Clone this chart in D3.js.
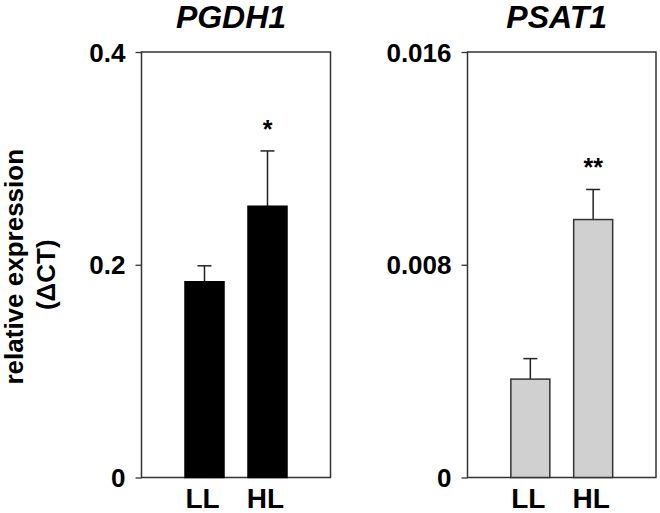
<!DOCTYPE html>
<html lang="en">
<head>
<meta charset="utf-8">
<title>PGDH1 / PSAT1 relative expression</title>
<script src="https://d3js.org/d3.v7.min.js"></script>
<style>
 body { margin: 0; background: #fff; }
 text { font-family: "Liberation Sans", Arial, sans-serif; font-weight: bold; fill: #000; }
</style>
</head>
<body>
<script>
// data
var conditions = ["LL", "HL"];
var genes = ["PGDH1", "PSAT1"];
var pgdh1Mean = [0.184, 0.255];
var pgdh1Err = [0.015, 0.052];
var psat1Mean = [0.0037, 0.0097];
var psat1Err = [0.00077, 0.00113];
var pgdh1Ticks = [0, 0.2, 0.4];
var psat1Ticks = [0, 0.008, 0.016];
var stars = [["", "*"], ["", "**"]];

var W = 660, H = 513;
var svg = d3.select("body").append("svg").attr("width", W).attr("height", H);

var plotTop = 52, plotH = 425.5;
var panels = [
  {gene: genes[0], mean: pgdh1Mean, err: pgdh1Err, ticks: pgdh1Ticks, x0: 141.5, w: 189, fill: "#000", stroke: "#000", star: stars[0]},
  {gene: genes[1], mean: psat1Mean, err: psat1Err, ticks: psat1Ticks, x0: 467.5, w: 188.5, fill: "#d0d0d0", stroke: "#333", star: stars[1]}
];

panels.forEach(function (p) {
  var g = svg.append("g").attr("transform", "translate(" + p.x0 + "," + plotTop + ")");

  var y = d3.scaleLinear().domain([0, p.ticks[p.ticks.length - 1]]).range([plotH, 0]);
  var x = d3.scalePoint().domain(conditions).range([0, p.w]).padding(1);
  var barW = 39, capW = 14;

  // frame
  g.append("rect")
    .attr("x", 0).attr("y", 0)
    .attr("width", p.w).attr("height", plotH)
    .attr("fill", "none").attr("stroke", "#333").attr("stroke-width", 1.5);

  // y axis
  var ya = g.append("g")
    .call(d3.axisLeft(y).tickValues(p.ticks).tickSize(6).tickSizeOuter(0).tickPadding(10)
      .tickFormat(function (d) { return d === 0 ? "0" : String(d); }));
  ya.select(".domain").remove();
  ya.selectAll("line").attr("stroke", "#333").attr("stroke-width", 1.3);
  ya.selectAll("text").attr("font-size", 26).attr("font-family", null).attr("dy", "0.35em");

  // x labels
  g.selectAll(".xl").data(conditions).enter().append("text")
    .attr("x", function (d) { return x(d) - 2; })
    .attr("y", plotH + 30)
    .attr("text-anchor", "middle")
    .attr("font-size", 28)
    .text(function (d) { return d; });

  // error bars (upper only)
  var eb = g.selectAll(".eb").data(conditions).enter().append("g");
  eb.append("line")
    .attr("x1", function (d) { return x(d); }).attr("x2", function (d) { return x(d); })
    .attr("y1", function (d, i) { return y(p.mean[i]); })
    .attr("y2", function (d, i) { return y(p.mean[i] + p.err[i]); })
    .attr("stroke", "#222").attr("stroke-width", 1.5);
  eb.append("line")
    .attr("x1", function (d) { return x(d) - capW / 2; }).attr("x2", function (d) { return x(d) + capW / 2; })
    .attr("y1", function (d, i) { return y(p.mean[i] + p.err[i]); })
    .attr("y2", function (d, i) { return y(p.mean[i] + p.err[i]); })
    .attr("stroke", "#222").attr("stroke-width", 1.5);

  // bars
  g.selectAll(".bar").data(conditions).enter().append("rect")
    .attr("x", function (d) { return x(d) - barW / 2; })
    .attr("y", function (d, i) { return y(p.mean[i]); })
    .attr("width", barW)
    .attr("height", function (d, i) { return plotH - y(p.mean[i]); })
    .attr("fill", p.fill).attr("stroke", p.stroke).attr("stroke-width", 1.5);

  // significance stars
  g.selectAll(".st").data(conditions).enter().append("text")
    .attr("x", function (d) { return x(d); })
    .attr("y", function (d, i) { return y(p.mean[i] + p.err[i]) - 13; })
    .attr("text-anchor", "middle")
    .attr("font-size", 25)
    .text(function (d, i) { return p.star[i]; });

  // title
  g.append("text")
    .attr("x", p.w / 2 - 5).attr("y", -24)
    .attr("text-anchor", "middle")
    .attr("font-size", 32).attr("font-style", "italic")
    .text(p.gene);
});

// y label
var yl = svg.append("text")
  .attr("transform", "translate(23," + (plotTop + plotH / 2 + 2) + ") rotate(-90)")
  .attr("text-anchor", "middle")
  .attr("font-size", 26);
yl.append("tspan").attr("x", 0).attr("y", 0).text("relative expression");
yl.append("tspan").attr("x", -8).attr("y", 32).text("(\u0394CT)");
</script>
</body>
</html>
